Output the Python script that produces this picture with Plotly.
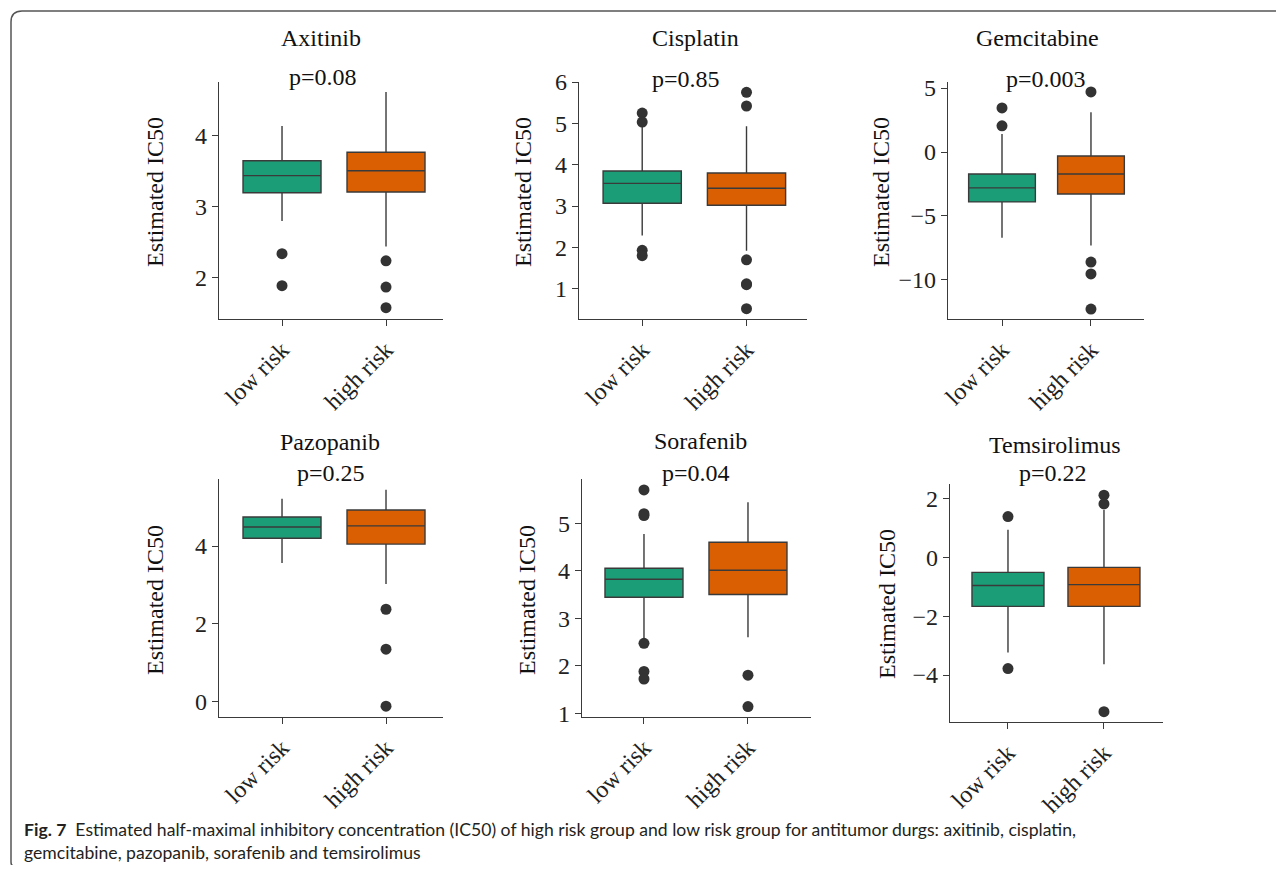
import plotly.graph_objects as go

# The page body has an 8 px margin, so the figure is 8 px smaller on each side
OFF = 8
W, H = 1284 - 2 * OFF, 873 - 2 * OFF

drugs = ["Axitinib", "Cisplatin", "Gemcitabine", "Pazopanib", "Sorafenib", "Temsirolimus"]
p_values = ["p=0.08", "p=0.85", "p=0.003", "p=0.25", "p=0.04", "p=0.22"]
groups = ["low risk", "high risk"]

low_q1 = [3.20, 3.07, -3.90, 4.20, 3.44, -1.66]
low_median = [3.44, 3.55, -2.80, 4.49, 3.82, -0.95]
low_q3 = [3.65, 3.85, -1.72, 4.75, 4.05, -0.50]
low_lower = [2.80, 2.29, -6.70, 3.56, 2.57, -3.23]
low_upper = [4.14, 4.92, 1.40, 5.22, 4.77, 0.95]
low_outliers = [[2.34, 1.89], [5.25, 5.03, 1.93, 1.80], [3.44, 2.05], [],
                [5.70, 5.20, 5.16, 2.47, 1.88, 1.72], [1.40, -3.78]]

high_q1 = [3.21, 3.02, -3.28, 4.05, 3.50, -1.66]
high_median = [3.51, 3.43, -1.72, 4.52, 4.01, -0.92]
high_q3 = [3.77, 3.80, -0.31, 4.93, 4.60, -0.33]
high_lower = [2.44, 1.92, -7.30, 3.02, 2.60, -3.63]
high_upper = [4.62, 4.93, 3.10, 5.45, 5.44, 1.62]
high_outliers = [[2.24, 1.87, 1.58], [5.75, 5.42, 1.70, 1.12, 1.10, 0.52],
                 [4.69, -8.60, -9.53, -12.27], [2.37, 1.34, -0.13], [1.80, 1.14],
                 [2.13, 1.83, -5.25]]

y_tickvals = [[2, 3, 4], [1, 2, 3, 4, 5, 6], [-10, -5, 0, 5], [0, 2, 4], [1, 2, 3, 4, 5], [-4, -2, 0, 2]]
y_ranges = [[1.42, 4.76], [0.27, 6.0], [-13.05, 5.47], [-0.41, 5.73], [0.92, 5.93], [-5.6, 2.51]]
x_ranges = [[-0.606, 1.548], [-0.606, 1.58], [-0.607, 1.596], [-0.606, 1.548], [-0.596, 1.606], [-0.604, 1.615]]

# layout (pixel boxes of each plot area in the window: left, right, top, bottom)
boxes = [(219, 443, 82, 319), (579, 807, 82, 319), (948, 1144, 82, 319),
         (219, 443, 479, 717), (582, 811, 479, 717), (950, 1163, 484, 722)]
title_pos = [(321, 38), (695, 38), (1037, 38), (330, 442), (700, 441), (1055, 445)]
p_pos = [(323, 77), (686, 79), (1046, 79), (331, 473), (696, 473), (1053, 473)]
ylab_pos = [(155, 192), (523, 192), (881, 192), (155, 600), (527, 600), (887, 604)]

GREEN = "#1b9e77"
ORANGE = "#d95f02"
LINE = "#3a3a3a"
FONT = "Liberation Serif"


def px(x):
    return (x - OFF) / W


def py(y):
    return 1 - (y - OFF) / H


fig = go.Figure()
layout = {}
annotations = []
for i in range(6):
    k = "" if i == 0 else str(i + 1)
    xa, ya = "x" + k, "y" + k
    l, r, t, b = boxes[i]
    for j, (q1, med, q3, lo, up, col) in enumerate([
        (low_q1, low_median, low_q3, low_lower, low_upper, GREEN),
        (high_q1, high_median, high_q3, high_lower, high_upper, ORANGE),
    ]):
        fig.add_trace(go.Box(
            x=[j], q1=[q1[i]], median=[med[i]], q3=[q3[i]],
            lowerfence=[lo[i]], upperfence=[up[i]],
            width=0.75, whiskerwidth=0, boxpoints=False,
            fillcolor=col, line=dict(color=LINE, width=1.4),
            xaxis=xa, yaxis=ya, showlegend=False, name=groups[j],
        ))
    for j, outs in enumerate([low_outliers[i], high_outliers[i]]):
        if outs:
            fig.add_trace(go.Scatter(
                x=[j] * len(outs), y=outs, mode="markers",
                marker=dict(color="#333333", size=11),
                xaxis=xa, yaxis=ya, showlegend=False,
            ))
    axis_common = dict(showline=True, linecolor=LINE, linewidth=1.3,
                       ticks="outside", ticklen=6, tickwidth=1.3, tickcolor=LINE,
                       showgrid=False, zeroline=False, automargin=False,
                       tickfont=dict(family=FONT, size=24, color="#222222"))
    layout["xaxis" + k] = dict(domain=[px(l), px(r)], anchor=ya, range=x_ranges[i],
                               tickvals=[0, 1], ticktext=groups, tickangle=-45,
                               **axis_common)
    layout["yaxis" + k] = dict(domain=[py(b), py(t)], anchor=xa, range=y_ranges[i],
                               tickvals=y_tickvals[i], **axis_common)
    annotations.append(dict(text=drugs[i], x=px(title_pos[i][0]), y=py(title_pos[i][1]),
                            xref="paper", yref="paper", showarrow=False,
                            xanchor="center", yanchor="middle",
                            font=dict(family=FONT, size=24, color="#111111")))
    annotations.append(dict(text=p_values[i], x=px(p_pos[i][0]), y=py(p_pos[i][1]),
                            xref="paper", yref="paper", showarrow=False,
                            xanchor="center", yanchor="middle",
                            font=dict(family=FONT, size=24, color="#111111")))
    annotations.append(dict(text="Estimated IC50", x=px(ylab_pos[i][0]), y=py(ylab_pos[i][1]),
                            xref="paper", yref="paper", showarrow=False, textangle=-90,
                            xanchor="center", yanchor="middle",
                            font=dict(family=FONT, size=24, color="#111111")))

caption1 = ("<b>Fig. 7</b>  Estimated half-maximal inhibitory concentration (IC50) of high risk group "
            "and low risk group for antitumor durgs: axitinib, cisplatin,")
caption2 = "gemcitabine, pazopanib, sorafenib and temsirolimus"
annotations.append(dict(text=caption1, x=px(22), y=py(829), xref="paper", yref="paper",
                        showarrow=False, xanchor="left", yanchor="middle",
                        font=dict(family="Lato", size=17.6, color="#231f20")))
annotations.append(dict(text=caption2, x=px(22), y=py(852), xref="paper", yref="paper",
                        showarrow=False, xanchor="left", yanchor="middle",
                        font=dict(family="Lato", size=17.6, color="#231f20")))

frame_path = (f"M {px(11)},{py(862)} Q {px(11)},{py(866)} {px(14)},{py(866)} "
              f"M {px(11)},{py(862)} L {px(11)},{py(22)} Q {px(11)},{py(11)} {px(22)},{py(11)} "
              f"L {px(1276)},{py(11)}")

fig.update_layout(
    width=W, height=H, margin=dict(l=0, r=0, t=0, b=0, autoexpand=False),
    paper_bgcolor="white", plot_bgcolor="white",
    annotations=annotations,
    shapes=[dict(type="path", path=frame_path, xref="paper", yref="paper",
                 line=dict(color="#555555", width=1.5))],
    **layout,
)
fig.write_html("out.html")
